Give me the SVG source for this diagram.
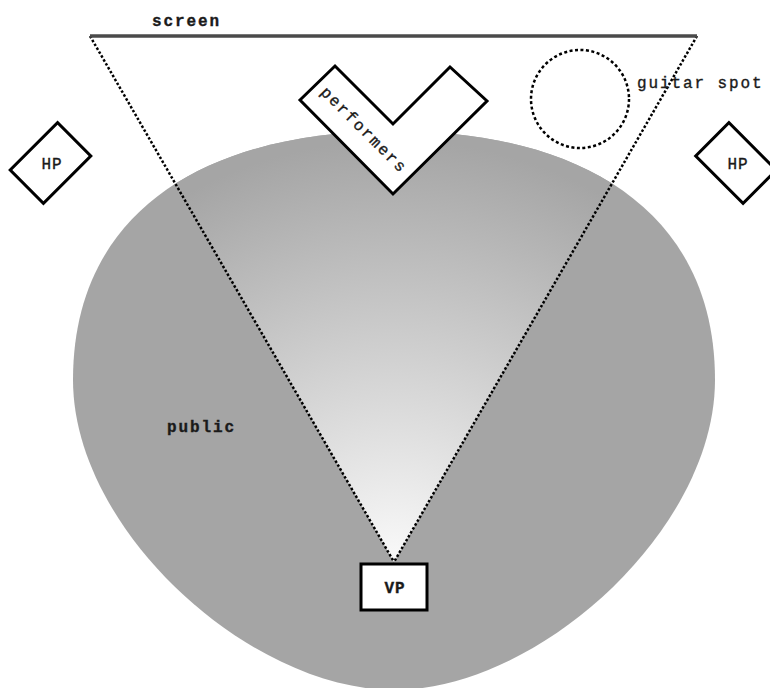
<svg xmlns="http://www.w3.org/2000/svg" width="770" height="688" viewBox="0 0 770 688">
  <style>
    .lbl { font-family: "Liberation Mono", "DejaVu Sans Mono", monospace; font-size: 16px; fill: #1a1a1a; stroke: #1a1a1a; stroke-width: 0.35px; letter-spacing: 1.9px; }
    .box { fill: #ffffff; stroke: #000000; stroke-width: 3; stroke-linejoin: miter; }
    .dots { fill: none; stroke: #000000; stroke-width: 2.5; stroke-dasharray: 2.5 2; }
  </style>
  <defs>
    <radialGradient id="viewGrad" gradientUnits="userSpaceOnUse" cx="394" cy="565" r="425">
      <stop offset="0" stop-color="#fafafa"/>
      <stop offset="1" stop-color="#a5a5a5"/>
    </radialGradient>
    <clipPath id="blobClip">
      <path d="M394,131 C573,131 715,205 715,380 C715,530 538,690 394,690 C250,690 73,530 73,380 C73,205 215,131 394,131 Z"/>
    </clipPath>
  </defs>
  <rect width="770" height="688" fill="#ffffff"/>

  <g id="public">
    <path d="M394,131 C573,131 715,205 715,380 C715,530 538,690 394,690 C250,690 73,530 73,380 C73,205 215,131 394,131 Z" fill="#a5a5a5"/>
    <polygon points="90,36 697,36 394,562" fill="url(#viewGrad)" clip-path="url(#blobClip)"/>
    <text class="lbl" x="167" y="432" font-weight="bold">public</text>
  </g>

  <g id="connectors">
    <line class="dots" x1="90" y1="36" x2="394" y2="562"/>
    <line class="dots" x1="697" y1="36" x2="394" y2="562"/>
  </g>

  <g id="screen">
    <line x1="90" y1="36" x2="697" y2="36" stroke="#4a4a4a" stroke-width="3.5"/>
    <text class="lbl" x="152" y="26" font-weight="bold">screen</text>
  </g>

  <g id="guitar-spot">
    <circle cx="580" cy="99" r="49" fill="none" stroke="#000000" stroke-width="2.5" stroke-dasharray="3 2.5"/>
    <text class="lbl" x="637" y="88">guitar spot</text>
  </g>

  <g id="performers">
    <polygon class="box" points="300,100 335,66 393,124 450,67 487,101 393,194"/>
    <text class="lbl" text-anchor="middle" transform="translate(364,130) rotate(45)" x="0" y="5">performers</text>
  </g>

  <g id="hp-left">
    <rect class="box" x="-33.5" y="-23.5" width="67" height="47" transform="translate(50.5,163) rotate(-45)"/>
    <text class="lbl" x="52" y="169" text-anchor="middle" font-size="15" style="letter-spacing:1px">HP</text>
  </g>

  <g id="hp-right">
    <rect class="box" x="-33.5" y="-23.5" width="67" height="47" transform="translate(736,163) rotate(45)"/>
    <text class="lbl" x="738" y="169" text-anchor="middle" font-size="15" style="letter-spacing:1px">HP</text>
  </g>

  <g id="vp">
    <rect class="box" x="361" y="564" width="66" height="46" stroke-width="3.5"/>
    <text class="lbl" x="395" y="593" text-anchor="middle" font-weight="bold" style="letter-spacing:1px">VP</text>
  </g>
</svg>
